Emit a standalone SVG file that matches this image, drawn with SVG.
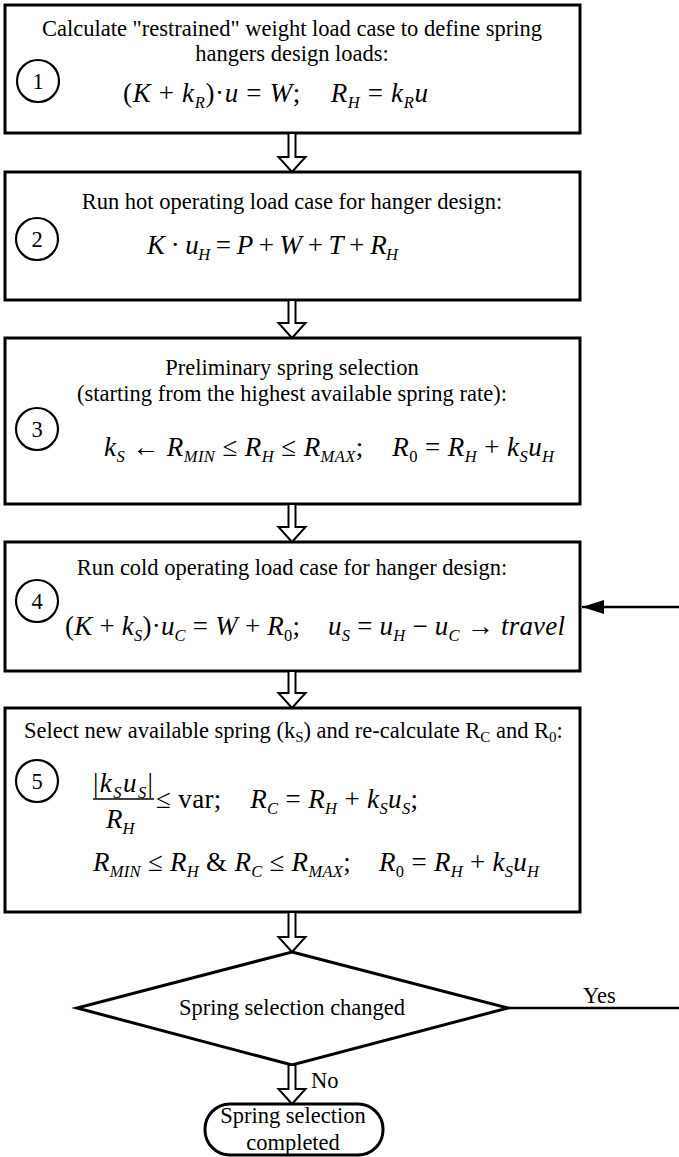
<svg xmlns="http://www.w3.org/2000/svg" width="679" height="1157" viewBox="0 0 679 1157">
<style>
.box{fill:#fff;stroke:#000;stroke-width:3}
.c{fill:none;stroke:#000;stroke-width:2.2}
.t{font-family:"Liberation Serif","Times New Roman",serif;font-size:22.5px;fill:#000}
.n{font-family:"Liberation Serif","Times New Roman",serif;font-size:22.5px;fill:#000;text-anchor:middle}
.m{font-family:"Liberation Serif","Times New Roman",serif;font-size:27px;fill:#000}
.i{font-style:italic}
.s{font-size:16.5px;font-style:italic}
.su{font-size:16.5px}
.ts{font-size:15px}
.ar{fill:#fff;stroke:#000;stroke-width:2}
.ln{fill:none;stroke:#000;stroke-width:2.5}
</style>
<defs>
<marker id="fa" markerWidth="22" markerHeight="14" refX="22" refY="7" orient="auto" markerUnits="userSpaceOnUse" viewBox="0 0 22 14">
<path d="M0,0 L22,7 L0,14 Z" fill="#000"/>
</marker>
</defs>

<g id="node1">
<rect class="box" x="5" y="5" width="575" height="128"/>
<circle class="c" cx="38" cy="81" r="21"/>
<text class="n" x="38" y="89">1</text>
<text class="n" x="292" y="36">Calculate "restrained" weight load case to define spring</text>
<text class="n" x="292" y="61">hangers design loads:</text>
<text class="m" x="123" y="102" textLength="305" lengthAdjust="spacing" xml:space="preserve">(<tspan class="i">K</tspan> + <tspan class="i">k</tspan><tspan class="s" dy="6">R</tspan><tspan dy="-6">)·</tspan><tspan class="i">u</tspan> = <tspan class="i">W</tspan>;    <tspan class="i">R</tspan><tspan class="s" dy="6">H</tspan><tspan dy="-6"> = </tspan><tspan class="i">k</tspan><tspan class="s" dy="6">R</tspan><tspan class="i" dy="-6">u</tspan></text>
</g>

<g id="node2">
<rect class="box" x="5" y="172" width="575" height="128"/>
<circle class="c" cx="37" cy="239" r="21"/>
<text class="n" x="37" y="247">2</text>
<text class="n" x="292" y="209">Run hot operating load case for hanger design:</text>
<text class="m" x="147" y="254" textLength="251" lengthAdjust="spacing" xml:space="preserve"><tspan class="i">K</tspan> · <tspan class="i">u</tspan><tspan class="s" dy="6">H</tspan><tspan dy="-6"> = </tspan><tspan class="i">P</tspan> + <tspan class="i">W</tspan> + <tspan class="i">T</tspan> + <tspan class="i">R</tspan><tspan class="s" dy="6">H</tspan></text>
</g>

<g id="node3">
<rect class="box" x="5" y="338" width="575" height="166"/>
<circle class="c" cx="37" cy="429" r="21"/>
<text class="n" x="37" y="437">3</text>
<text class="n" x="292" y="375">Preliminary spring selection</text>
<text class="n" x="292" y="401">(starting from the highest available spring rate):</text>
<text class="m" x="104" y="456" textLength="450" lengthAdjust="spacing" xml:space="preserve"><tspan class="i">k</tspan><tspan class="s" dy="6">S</tspan><tspan dy="-6"> ← </tspan><tspan class="i">R</tspan><tspan class="s" dy="6">MIN</tspan><tspan dy="-6"> ≤ </tspan><tspan class="i">R</tspan><tspan class="s" dy="6">H</tspan><tspan dy="-6"> ≤ </tspan><tspan class="i">R</tspan><tspan class="s" dy="6">MAX</tspan><tspan dy="-6">;    </tspan><tspan class="i">R</tspan><tspan class="su" dy="6">0</tspan><tspan dy="-6"> = </tspan><tspan class="i">R</tspan><tspan class="s" dy="6">H</tspan><tspan dy="-6"> + </tspan><tspan class="i">k</tspan><tspan class="s" dy="6">S</tspan><tspan class="i" dy="-6">u</tspan><tspan class="s" dy="6">H</tspan></text>
</g>

<g id="node4">
<rect class="box" x="5" y="542" width="575" height="129"/>
<circle class="c" cx="37" cy="601" r="21"/>
<text class="n" x="37" y="609">4</text>
<text class="n" x="292" y="575">Run cold operating load case for hanger design:</text>
<text class="m" x="65" y="635" textLength="500" lengthAdjust="spacing" xml:space="preserve">(<tspan class="i">K</tspan> + <tspan class="i">k</tspan><tspan class="s" dy="6">S</tspan><tspan dy="-6">)·</tspan><tspan class="i">u</tspan><tspan class="s" dy="6">C</tspan><tspan dy="-6"> = </tspan><tspan class="i">W</tspan> + <tspan class="i">R</tspan><tspan class="su" dy="6">0</tspan><tspan dy="-6">;    </tspan><tspan class="i">u</tspan><tspan class="s" dy="6">S</tspan><tspan dy="-6"> = </tspan><tspan class="i">u</tspan><tspan class="s" dy="6">H</tspan><tspan dy="-6"> − </tspan><tspan class="i">u</tspan><tspan class="s" dy="6">C</tspan><tspan dy="-6"> → </tspan><tspan class="i">travel</tspan></text>
</g>

<g id="node5">
<rect class="box" x="5" y="708" width="575" height="204"/>
<circle class="c" cx="37" cy="781" r="21"/>
<text class="n" x="37" y="789">5</text>
<text class="t" x="24" y="738">Select new available spring (k<tspan class="ts" dy="4">S</tspan><tspan dy="-4">) and re-calculate R</tspan><tspan class="ts" dy="4">C</tspan><tspan dy="-4"> and R</tspan><tspan class="ts" dy="4">0</tspan><tspan dy="-4">:</tspan></text>
<text class="m" x="93" y="792" textLength="60" lengthAdjust="spacing">|<tspan class="i">k</tspan><tspan class="s" dy="6">S</tspan><tspan class="i" dy="-6">u</tspan><tspan class="s" dy="6">S</tspan><tspan dy="-6">|</tspan></text>
<line x1="93" y1="799" x2="154" y2="799" stroke="#000" stroke-width="1.3"/>
<text class="m" x="106" y="828"><tspan class="i">R</tspan><tspan class="s" dy="6">H</tspan></text>
<text class="m" x="156" y="808" textLength="262" lengthAdjust="spacing" xml:space="preserve">≤ var;    <tspan class="i">R</tspan><tspan class="s" dy="6">C</tspan><tspan dy="-6"> = </tspan><tspan class="i">R</tspan><tspan class="s" dy="6">H</tspan><tspan dy="-6"> + </tspan><tspan class="i">k</tspan><tspan class="s" dy="6">S</tspan><tspan class="i" dy="-6">u</tspan><tspan class="s" dy="6">S</tspan><tspan dy="-6">;</tspan></text>
<text class="m" x="93" y="871" textLength="446" lengthAdjust="spacing" xml:space="preserve"><tspan class="i">R</tspan><tspan class="s" dy="6">MIN</tspan><tspan dy="-6"> ≤ </tspan><tspan class="i">R</tspan><tspan class="s" dy="6">H</tspan><tspan dy="-6"> &amp; </tspan><tspan class="i">R</tspan><tspan class="s" dy="6">C</tspan><tspan dy="-6"> ≤ </tspan><tspan class="i">R</tspan><tspan class="s" dy="6">MAX</tspan><tspan dy="-6">;    </tspan><tspan class="i">R</tspan><tspan class="su" dy="6">0</tspan><tspan dy="-6"> = </tspan><tspan class="i">R</tspan><tspan class="s" dy="6">H</tspan><tspan dy="-6"> + </tspan><tspan class="i">k</tspan><tspan class="s" dy="6">S</tspan><tspan class="i" dy="-6">u</tspan><tspan class="s" dy="6">H</tspan></text>
</g>

<g id="decision">
<polygon class="box" points="292,952 508,1008 292,1065 77,1008"/>
<text class="n" x="292" y="1015">Spring selection changed</text>
</g>

<g id="terminal">
<rect class="box" x="205" y="1104" width="178" height="51" rx="25" ry="25"/>
<text class="n" x="293" y="1123">Spring selection</text>
<text class="n" x="293" y="1150">completed</text>
</g>

<g id="connectors">
<path class="ar" d="M288.5,133 V157 H278.5 L292,172 L305.5,157 H295.5 V133 Z"/>
<path class="ar" d="M288.5,300 V323 H278.5 L292,338 L305.5,323 H295.5 V300 Z"/>
<path class="ar" d="M288.5,504 V527 H278.5 L292,542 L305.5,527 H295.5 V504 Z"/>
<path class="ar" d="M288.5,671 V693 H278.5 L292,708 L305.5,693 H295.5 V671 Z"/>
<path class="ar" d="M288.5,912 V937 H278.5 L292,952 L305.5,937 H295.5 V912 Z"/>
<path class="ar" d="M288.5,1065 V1089 H278.5 L292,1104 L305.5,1089 H295.5 V1065 Z"/>
<line class="ln" x1="508" y1="1008" x2="679" y2="1008"/>
<line class="ln" x1="679" y1="607" x2="582" y2="607" marker-end="url(#fa)"/>
<text class="t" x="583" y="1003">Yes</text>
<text class="t" x="311" y="1088">No</text>
</g>
</svg>
